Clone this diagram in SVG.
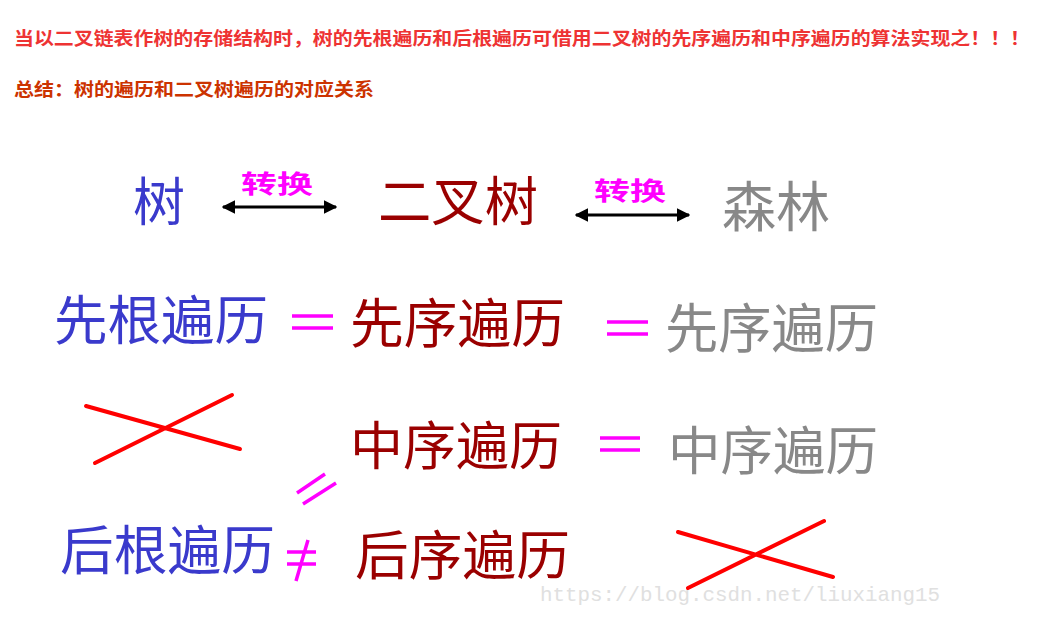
<svg xmlns="http://www.w3.org/2000/svg" width="1049" height="622" viewBox="0 0 1049 622">
<style>
.t{font-family:"Noto Sans CJK SC","Noto Sans",sans-serif}
.h1{font-size:18px;font-weight:bold;fill:#ee3333}
.h2{font-size:18px;font-weight:bold;fill:#cc3300}
.blue{fill:#3a3acc}
.red{fill:#9a0000}
.gray{fill:#888888}
.mag{fill:#ff00ff;font-weight:bold;font-size:25px}
.eq{stroke:#ff00ff;stroke-width:3.5;fill:none}
.cross{stroke:#ff0000;stroke-width:4;fill:none;stroke-linecap:round}
.arr{stroke:#000;stroke-width:3;fill:none}
.wm{font-family:"Liberation Mono",monospace;font-size:21px;fill:#e0e0e0}
</style>
<defs>
<marker id="ah" viewBox="0 0 10 10" refX="9" refY="5" markerWidth="4.5" markerHeight="4.5" orient="auto-start-reverse" markerUnits="strokeWidth">
<path d="M0,0 L10,5 L0,10 z" fill="#000"/>
</marker>
</defs>
<rect width="1049" height="622" fill="#fff"/>
<g id="title">
<text class="t h1" x="14" y="45" textLength="1016" lengthAdjust="spacingAndGlyphs">当以二叉链表作树的存储结构时，树的先根遍历和后根遍历可借用二叉树的先序遍历和中序遍历的算法实现之！！！</text>
<text class="t h2" x="14" y="96" textLength="360" lengthAdjust="spacingAndGlyphs">总结：树的遍历和二叉树遍历的对应关系</text>
</g>
<g id="n-tree"><text class="t blue" x="133" y="221" font-size="52">树</text></g>
<g id="n-bintree"><text class="t red" x="378" y="221" font-size="53" textLength="160" lengthAdjust="spacingAndGlyphs">二叉树</text></g>
<g id="n-forest"><text class="t gray" x="722" y="227" font-size="54" textLength="108" lengthAdjust="spacingAndGlyphs">森林</text></g>
<g id="n-preroot"><text class="t blue" x="54" y="340" font-size="53" textLength="214" lengthAdjust="spacingAndGlyphs">先根遍历</text></g>
<g id="n-preorder-b"><text class="t red" x="350" y="343" font-size="53" textLength="215" lengthAdjust="spacingAndGlyphs">先序遍历</text></g>
<g id="n-preorder-f"><text class="t gray" x="665" y="348" font-size="53" textLength="213" lengthAdjust="spacingAndGlyphs">先序遍历</text></g>
<g id="n-inorder-b"><text class="t red" x="350" y="465" font-size="52" textLength="212" lengthAdjust="spacingAndGlyphs">中序遍历</text></g>
<g id="n-inorder-f"><text class="t gray" x="668" y="470" font-size="52" textLength="210" lengthAdjust="spacingAndGlyphs">中序遍历</text></g>
<g id="n-postroot"><text class="t blue" x="60" y="570" font-size="53" textLength="215" lengthAdjust="spacingAndGlyphs">后根遍历</text></g>
<g id="n-postorder-b"><text class="t red" x="355" y="575" font-size="53" textLength="215" lengthAdjust="spacingAndGlyphs">后序遍历</text></g>
<g id="connectors">
<line class="arr" x1="223" y1="207" x2="336" y2="207" marker-start="url(#ah)" marker-end="url(#ah)"/>
<line class="arr" x1="576" y1="215" x2="689" y2="215" marker-start="url(#ah)" marker-end="url(#ah)"/>
<text class="t mag" x="241" y="193" textLength="72" lengthAdjust="spacingAndGlyphs">转换</text>
<text class="t mag" x="594" y="200" textLength="72" lengthAdjust="spacingAndGlyphs">转换</text>
<path class="eq" d="M292,316 H333 M292,328 H333"/>
<path class="eq" d="M607,322 H648 M607,334 H648"/>
<path class="eq" d="M600,438 H640 M600,450 H640"/>
<path class="eq" d="M297,493 L325,474 M303,504 L336,483"/>
<path class="eq" d="M287,552 H316 M287,564 H316 M296,581 L308,540"/>
<path class="cross" d="M86,406 L240,449 M95,463 L232,395"/>
<path class="cross" d="M678,532 L833,577 M688,588 L824,521"/>
</g>
<text class="wm" x="540" y="601" textLength="400" lengthAdjust="spacingAndGlyphs">https://blog.csdn.net/liuxiang15</text>
</svg>
